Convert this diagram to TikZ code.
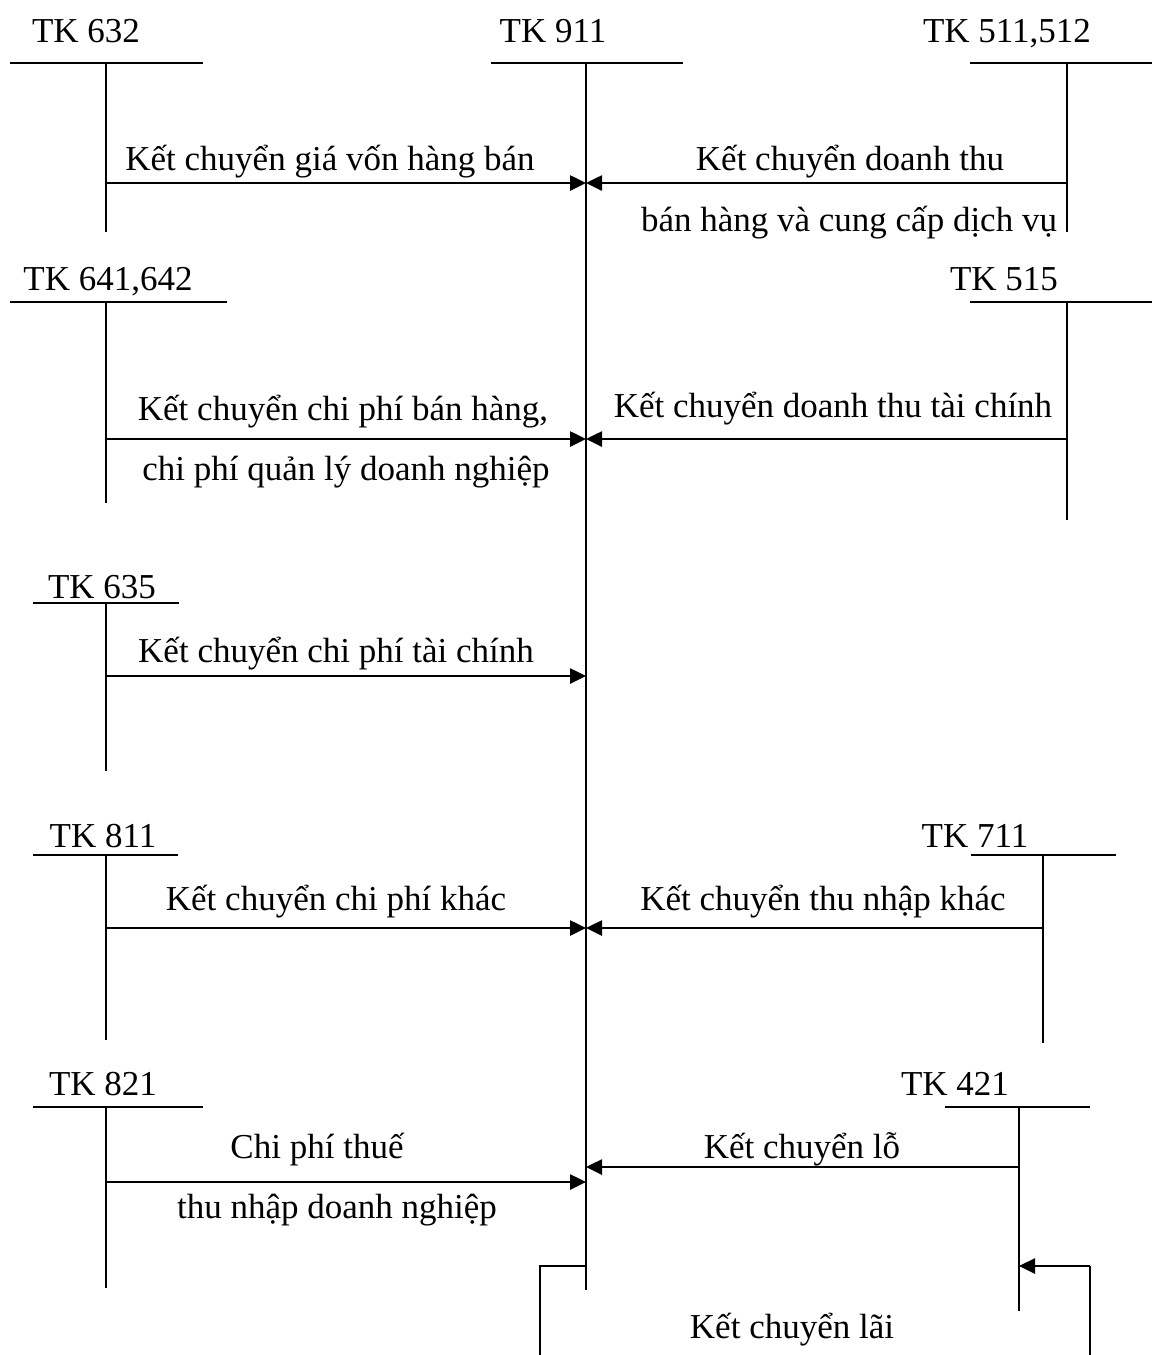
\documentclass[tikz,border=0pt]{standalone}
\usepackage{fontspec}
\setmainfont{Liberation Serif}
\usetikzlibrary{arrows.meta}
\begin{document}
\begin{tikzpicture}[x=0.5pt,y=-0.5pt,
  lbl/.style={anchor=base,inner sep=0pt,font=\fontsize{17.5pt}{21pt}\selectfont},
  bar/.style={line width=1.4pt},
  stem/.style={line width=1pt},
  flow/.style={line width=1.3pt,-{Triangle[length=8pt,width=7.5pt]}},
  frame/.style={line width=1pt}]
\useasboundingbox (0,0) rectangle (1152,1355);

% account T-shapes: heading, bar, stem
\node[lbl] (n632) at (86,42) {TK 632};
\draw[bar] (10,63) -- (203,63);
\coordinate (s632t) at (106,63); \coordinate (s632b) at (106,232);
\draw[stem] (s632t) -- (s632b);

\node[lbl] (n911) at (553,42) {TK 911};
\draw[bar] (491,63) -- (683,63);
\coordinate (s911t) at (586,63); \coordinate (s911b) at (586,1290);
\draw[stem] (s911t) -- (s911b);

\node[lbl] (n511) at (1007,42) {TK 511,512};
\draw[bar] (970,63) -- (1152,63);
\coordinate (s511t) at (1067,63); \coordinate (s511b) at (1067,232);
\draw[stem] (s511t) -- (s511b);

\node[lbl] (n641) at (108,290) {TK 641,642};
\draw[bar] (10,302) -- (227,302);
\coordinate (s641t) at (106,302); \coordinate (s641b) at (106,503);
\draw[stem] (s641t) -- (s641b);

\node[lbl] (n515) at (1004,290) {TK 515};
\draw[bar] (970,302) -- (1152,302);
\coordinate (s515t) at (1067,302); \coordinate (s515b) at (1067,520);
\draw[stem] (s515t) -- (s515b);

\node[lbl] (n635) at (102,598) {TK 635};
\draw[bar] (33,603) -- (179,603);
\coordinate (s635t) at (106,603); \coordinate (s635b) at (106,771);
\draw[stem] (s635t) -- (s635b);

\node[lbl] (n811) at (103,847) {TK 811};
\draw[bar] (33,855) -- (178,855);
\coordinate (s811t) at (106,855); \coordinate (s811b) at (106,1040);
\draw[stem] (s811t) -- (s811b);

\node[lbl] (n711) at (975,847) {TK 711};
\draw[bar] (971,855) -- (1116,855);
\coordinate (s711t) at (1043,855); \coordinate (s711b) at (1043,1043);
\draw[stem] (s711t) -- (s711b);

\node[lbl] (n821) at (103,1095) {TK 821};
\draw[bar] (33,1107) -- (203,1107);
\coordinate (s821t) at (106,1107); \coordinate (s821b) at (106,1288);
\draw[stem] (s821t) -- (s821b);

\node[lbl] (n421) at (955,1095) {TK 421};
\draw[bar] (945,1107) -- (1090,1107);
\coordinate (s421t) at (1019,1107); \coordinate (s421b) at (1019,1311);
\draw[stem] (s421t) -- (s421b);

% transfer points on the stems
\coordinate (a632) at (106,183);  \coordinate (b632) at (586,183);
\coordinate (a511) at (1067,183); \coordinate (b511) at (586,183);
\coordinate (a641) at (106,439);  \coordinate (b641) at (586,439);
\coordinate (a515) at (1067,439); \coordinate (b515) at (586,439);
\coordinate (a635) at (106,676);  \coordinate (b635) at (586,676);
\coordinate (a811) at (106,928);  \coordinate (b811) at (586,928);
\coordinate (a711) at (1043,928); \coordinate (b711) at (586,928);
\coordinate (a821) at (106,1182); \coordinate (b821) at (586,1182);
\coordinate (a421) at (1019,1167); \coordinate (b421) at (586,1167);

\draw[flow] (a632) -- (b632);
\draw[flow] (a511) -- (b511);
\draw[flow] (a641) -- (b641);
\draw[flow] (a515) -- (b515);
\draw[flow] (a635) -- (b635);
\draw[flow] (a811) -- (b811);
\draw[flow] (a711) -- (b711);
\draw[flow] (a821) -- (b821);
\draw[flow] (a421) -- (b421);

% profit transfer: from TK 911 down and round into TK 421
\coordinate (p1) at (586,1266);
\coordinate (p2) at (540,1266);
\coordinate (p3) at (540,1355);
\coordinate (q1) at (1090,1355);
\coordinate (q2) at (1090,1266);
\coordinate (q3) at (1019,1266);
\draw[frame] (p1) -- (p2) -- (p3);
\draw[frame] (q1) -- (q2);
\draw[flow] (q2) -- (q3);

% transfer labels
\node[lbl] (t1) at (330,170) {Kết chuyển giá vốn hàng bán};
\node[lbl] (t2a) at (850,170) {Kết chuyển doanh thu};
\node[lbl] (t2b) at (849,231) {bán hàng và cung cấp dịch vụ};
\node[lbl] (t3a) at (343,420) {Kết chuyển chi phí bán hàng,};
\node[lbl] (t3b) at (346,480) {chi phí quản lý doanh nghiệp};
\node[lbl] (t4) at (833,417) {Kết chuyển doanh thu tài chính};
\node[lbl] (t5) at (336,662) {Kết chuyển chi phí tài chính};
\node[lbl] (t6) at (336,910) {Kết chuyển chi phí khác};
\node[lbl] (t7) at (823,910) {Kết chuyển thu nhập khác};
\node[lbl] (t8a) at (317,1158) {Chi phí thuế};
\node[lbl] (t8b) at (337,1218) {thu nhập doanh nghiệp};
\node[lbl] (t9) at (802,1158) {Kết chuyển lỗ};
\node[lbl] (t10) at (792,1338) {Kết chuyển lãi};
\end{tikzpicture}
\end{document}
